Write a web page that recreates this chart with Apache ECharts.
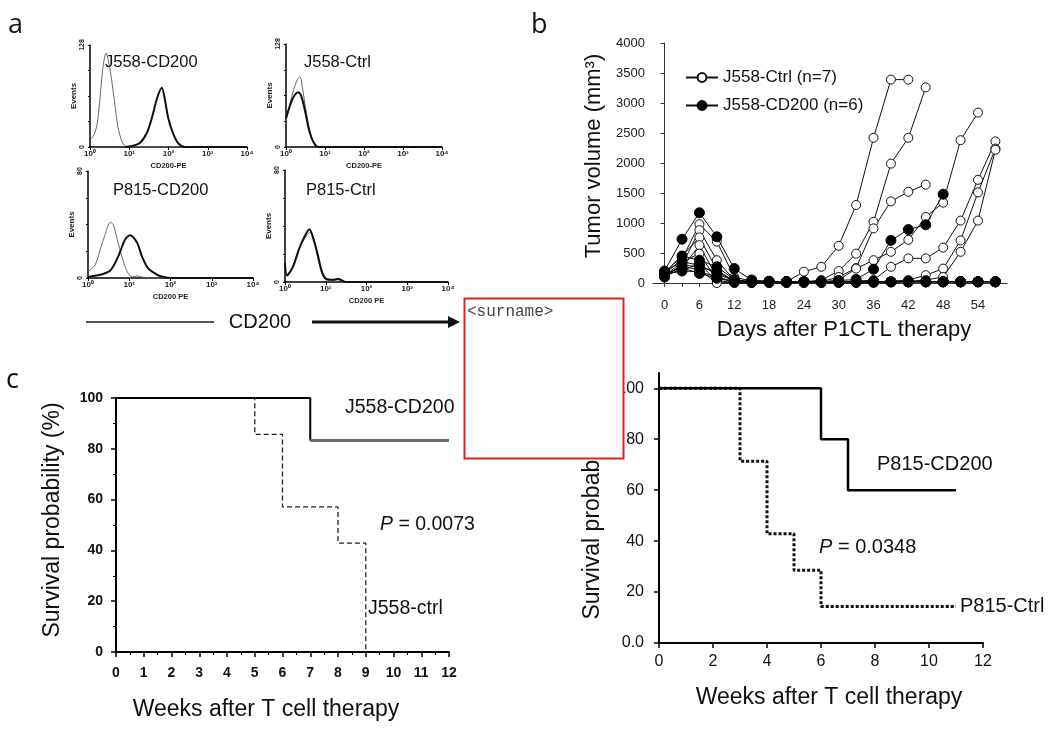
<!DOCTYPE html>
<html>
<head>
<meta charset="utf-8">
<script src="https://cdn.jsdelivr.net/npm/echarts@6/dist/echarts.min.js"></script>
<style>
html,body{margin:0;padding:0;background:#fff}
#chart{width:1050px;height:729px}
</style>
</head>
<body>
<div id="chart"></div>
<script>
// ---------- panel a : flow histograms, x = log10(CD200-PE), y = % of max events
var histDecades = [0, 1, 2, 3, 4];
var j558CD200Thin  = [[0,7],[0.1,12],[0.18,22],[0.25,46],[0.33,78],[0.41,92],[0.51,76],[0.62,46],[0.71,20],[0.82,5],[0.94,0],[1.1,1],[1.3,0],[4,0]];
var j558CD200Thick = [[0.9,0],[1.07,1],[1.27,4],[1.45,14],[1.58,29],[1.71,48],[1.83,58],[1.91,46],[1.99,29],[2.11,14],[2.24,4],[2.42,0],[4,0]];
var j558CtrlThin   = [[0,25],[0.1,42],[0.2,56],[0.3,66],[0.36,68],[0.42,58],[0.5,38],[0.6,18],[0.7,5],[0.8,0],[4,0]];
var j558CtrlThick  = [[0,28],[0.1,40],[0.2,49],[0.3,53],[0.36,52],[0.42,46],[0.5,33],[0.6,15],[0.7,5],[0.82,0],[4,0]];
var p815CD200Thin  = [[0,6],[0.17,12],[0.29,26],[0.41,40],[0.54,52],[0.61,50],[0.71,36],[0.83,19],[0.95,6],[1.07,1],[1.2,2],[1.3,1],[1.5,0],[4,0]];
var p815CD200Thick = [[0,1],[0.29,3],[0.54,7],[0.73,20],[0.9,36],[1.02,40],[1.19,33],[1.31,20],[1.46,9],[1.68,3],[1.83,1],[2.0,0],[4,0]];
var p815CtrlThin   = [[0,15],[0.05,5],[0.2,15],[0.35,30],[0.5,40],[0.6,44],[0.7,40],[0.8,22],[0.9,8],[1.0,2],[1.2,1],[1.3,2],[1.45,0],[4,0]];
var p815CtrlThick  = [[0,17],[0.05,6],[0.2,14],[0.35,30],[0.5,42],[0.6,47],[0.7,38],[0.8,25],[0.9,10],[1.0,3],[1.2,2],[1.3,3],[1.5,0],[4,0]];

// ---------- panel b : tumour volume per mouse (mm3), every 3 days
var days = [0,3,6,9,12,15,18,21,24,27,30,33,36,39,42,45,48,51,54,57];
var bTickDays  = [0,3,6,9,12,15,18,21,24,27,30,33,36,39,42,45,48,51,54,57];
var bLabelDays = [0,6,12,18,24,30,36,42,48,54];
var ctrlMice = [
  [150,400,980,690,100,30,20,20,190,270,620,1300,2420,3390,3390,null,null,null,null,null],
  [120,300,880,380,50,20,20,20,20,50,200,490,1020,1990,2420,3260,null,null,null,null],
  [180,450,760,220,30,10,10,10,10,20,100,250,910,1360,1520,1640,null,null,null,null],
  [100,250,630,100,20,0,0,0,0,10,50,240,380,520,720,1100,1340,2380,2840,null],
  [200,350,490,50,0,0,0,0,0,0,20,30,50,270,410,410,590,1040,1720,2360],
  [150,200,330,20,0,0,0,0,0,0,0,0,20,30,50,130,240,710,1510,2240],
  [130,280,220,0,0,0,0,0,0,0,0,0,0,20,30,50,100,520,1040,2220]
];
var cd200Mice = [
  [200,730,1170,770,240,50,30,20,20,20,40,60,230,710,890,970,1480,null,null,null],
  [180,450,380,270,60,20,20,20,20,20,20,20,20,20,20,20,20,20,20,20],
  [100,300,270,190,30,20,20,20,20,20,20,20,20,20,20,20,20,20,20,20],
  [150,200,190,100,20,20,20,20,20,20,20,20,20,20,20,20,20,20,20,20],
  [120,350,300,150,40,20,20,20,20,20,20,20,20,20,20,20,20,20,20,20],
  [160,250,160,80,20,20,20,20,20,20,20,20,20,20,20,20,20,20,20,20]
];

// ---------- panel c : Kaplan-Meier survival (%)
var weeksJ558CD200 = [0, 7, 12];        var survJ558CD200 = [100, 83.3, 83.3];
var weeksJ558Ctrl  = [0, 5, 6, 8, 9];   var survJ558Ctrl  = [100, 85.7, 57.1, 42.9, 0];
var weeksP815CD200 = [0, 6, 7, 11];     var survP815CD200 = [100, 80, 60, 60];
var weeksP815Ctrl  = [0, 3, 4, 5, 6, 11]; var survP815Ctrl = [100, 71.4, 42.9, 28.6, 14.3, 14.3];
var survTicksR = [0, 20, 40, 60, 80, 100];

var FONT = '"Liberation Sans", Arial, sans-serif';
var SUP = ['\u2070', '\u00b9', '\u00b2', '\u00b3', '\u2074'];
var chart = echarts.init(document.getElementById('chart'));

function pairs(xs, ys) {
  var out = [];
  for (var i = 0; i < xs.length; i++) if (ys[i] != null) out.push([xs[i], ys[i]]);
  return out;
}

var grids = [
  {left: 90, top: 45, width: 157, height: 102},
  {left: 286, top: 44, width: 156, height: 103},
  {left: 88, top: 171, width: 165, height: 107},
  {left: 285, top: 170, width: 163, height: 112},
  {left: 653, top: 43, width: 354, height: 240},
  {left: 116, top: 398, width: 333, height: 254},
  {left: 659, top: 373, width: 324, height: 270}
];

var xAxes = [], yAxes = [], series = [];
var histNames = ['CD200-PE', 'CD200-PE', 'CD200 PE', 'CD200 PE'];
var histTop = ['128', '128', '80', '80'];
var histCurves = [
  [j558CD200Thin, j558CD200Thick], [j558CtrlThin, j558CtrlThick],
  [p815CD200Thin, p815CD200Thick], [p815CtrlThin, p815CtrlThick]
];
histCurves.forEach(function (c, i) {
  xAxes.push({
    gridIndex: i, type: 'value', min: 0, max: 4, interval: 1,
    axisLine: {lineStyle: {color: '#000', width: 1.5}},
    axisTick: {length: 3, lineStyle: {color: '#000'}},
    axisLabel: {formatter: function (v) { return '10' + SUP[v]; }, fontSize: 8, fontWeight: 'bold', color: '#222', margin: 3, fontFamily: FONT},
    splitLine: {show: false},
    name: histNames[i], nameLocation: 'middle', nameGap: 15,
    nameTextStyle: {fontSize: 7.5, fontWeight: 'bold', color: '#222', fontFamily: FONT}
  });
  yAxes.push({
    gridIndex: i, type: 'value', min: 0, max: 100, interval: 25,
    axisLine: {show: true, lineStyle: {color: '#000', width: 1.5}},
    axisTick: {show: true, length: 2, lineStyle: {color: '#000'}},
    axisLabel: {customValues: [0, 100], rotate: 90, fontSize: 7, fontWeight: 'bold', color: '#222', margin: 4,
      formatter: function (v) { return v === 0 ? '0' : histTop[i]; }},
    splitLine: {show: false},
    name: 'Events', nameLocation: 'middle', nameRotate: 90, nameGap: 5,
    nameTextStyle: {fontSize: 8, fontWeight: 'bold', color: '#222', fontFamily: FONT}
  });
  series.push({type: 'line', xAxisIndex: i, yAxisIndex: i, data: c[0], smooth: 0.3, symbol: 'none',
    lineStyle: {color: '#666', width: 1}, z: 2});
  series.push({type: 'line', xAxisIndex: i, yAxisIndex: i, data: c[1], smooth: 0.3, symbol: 'none',
    lineStyle: {color: '#111', width: 2}, z: 3});
});

// panel b axes
xAxes.push({
  gridIndex: 4, type: 'value', min: -2, max: 59,
  axisLine: {lineStyle: {color: '#333', width: 1}},
  axisTick: {customValues: bTickDays, length: 4, lineStyle: {color: '#333'}},
  axisLabel: {customValues: bLabelDays, fontSize: 13, color: '#222', margin: 16, fontFamily: FONT},
  splitLine: {show: false}
});
yAxes.push({
  gridIndex: 4, type: 'value', min: 0, max: 4000, interval: 500,
  axisLine: {show: true, lineStyle: {color: '#333', width: 1}},
  axisTick: {show: true, length: 4, lineStyle: {color: '#333'}},
  axisLabel: {fontSize: 13, color: '#222', margin: 8, fontFamily: FONT,
    formatter: function (v) { return String(v); }},
  splitLine: {show: false}
});
ctrlMice.forEach(function (m) {
  series.push({
    name: 'J558-Ctrl (n=7)', type: 'line', xAxisIndex: 4, yAxisIndex: 4,
    data: pairs(days, m), symbol: 'circle', symbolSize: 9,
    itemStyle: {color: '#fff', borderColor: '#111', borderWidth: 1},
    lineStyle: {color: '#111', width: 1}, z: 2
  });
});
cd200Mice.forEach(function (m) {
  series.push({
    name: 'J558-CD200 (n=6)', type: 'line', xAxisIndex: 4, yAxisIndex: 4,
    data: pairs(days, m), symbol: 'circle', symbolSize: 10,
    itemStyle: {color: '#000', borderColor: '#000', borderWidth: 1},
    lineStyle: {color: '#111', width: 1}, z: 3
  });
});

// panel c left
xAxes.push({
  gridIndex: 5, type: 'value', min: 0, max: 12, interval: 1,
  axisLine: {lineStyle: {color: '#000', width: 2}},
  axisTick: {length: 5, lineStyle: {color: '#000', width: 1.5}},
  minorTick: {show: true, splitNumber: 2, length: 3, lineStyle: {color: '#000'}},
  axisLabel: {fontSize: 14, fontWeight: 'bold', color: '#111', margin: 14, fontFamily: FONT},
  splitLine: {show: false}
});
yAxes.push({
  gridIndex: 5, type: 'value', min: 0, max: 100, interval: 20,
  axisLine: {show: true, lineStyle: {color: '#000', width: 2}},
  axisTick: {show: true, length: 5, lineStyle: {color: '#000', width: 1.5}},
  minorTick: {show: true, splitNumber: 2, length: 3, lineStyle: {color: '#000'}},
  axisLabel: {fontSize: 14, fontWeight: 'bold', color: '#111', margin: 13, fontFamily: FONT},
  splitLine: {show: false}
});
var ptsJ558CD200 = pairs(weeksJ558CD200, survJ558CD200);
series.push({type: 'line', xAxisIndex: 5, yAxisIndex: 5, step: 'end', symbol: 'none',
  data: ptsJ558CD200.slice(0, 2), lineStyle: {color: '#000', width: 2}, z: 3});
series.push({type: 'line', xAxisIndex: 5, yAxisIndex: 5, step: 'end', symbol: 'none',
  data: ptsJ558CD200.slice(1), lineStyle: {color: '#6a6a6a', width: 3}, z: 3});
series.push({type: 'line', xAxisIndex: 5, yAxisIndex: 5, step: 'end', symbol: 'none',
  data: pairs(weeksJ558Ctrl, survJ558Ctrl), lineStyle: {color: '#222', width: 1.3, type: [5, 3]}, z: 2});

// panel c right
xAxes.push({
  gridIndex: 6, type: 'value', min: 0, max: 12, interval: 2,
  axisLine: {lineStyle: {color: '#000', width: 2}},
  axisTick: {length: 5, lineStyle: {color: '#000', width: 1.5}},
  axisLabel: {fontSize: 16, color: '#111', margin: 11, fontFamily: FONT},
  splitLine: {show: false}
});
yAxes.push({
  gridIndex: 6, type: 'value', min: 0, max: 106,
  axisLine: {show: true, lineStyle: {color: '#000', width: 2}},
  axisTick: {show: true, customValues: survTicksR, length: 5, lineStyle: {color: '#000', width: 1.5}},
  axisLabel: {customValues: survTicksR, fontSize: 16, color: '#111', margin: 15, fontFamily: FONT,
    formatter: function (v) { return v === 0 ? '0.0' : String(v); }},
  splitLine: {show: false}
});
series.push({type: 'line', xAxisIndex: 6, yAxisIndex: 6, step: 'end', symbol: 'none',
  data: pairs(weeksP815CD200, survP815CD200), lineStyle: {color: '#000', width: 2.5}, z: 3});
series.push({type: 'line', xAxisIndex: 6, yAxisIndex: 6, step: 'end', symbol: 'none',
  data: pairs(weeksP815Ctrl, survP815Ctrl), lineStyle: {color: '#111', width: 3, type: [3, 2]}, z: 2});

// texts
function txt(t, x, y, size, opt) {
  opt = opt || {};
  var st = {
    text: t, fontSize: size, fontFamily: opt.family || FONT, fill: opt.color || '#111',
    fontWeight: opt.weight || 'normal',
    align: opt.align || 'left', textAlign: opt.align || 'left',
    verticalAlign: 'middle', textVerticalAlign: 'middle'
  };
  if (opt.rich) st.rich = opt.rich;
  return {type: 'text', x: x, y: y, rotation: opt.rot || 0, z: opt.z || 50, style: st};
}
var italicP = function (size) {
  return {i: {fontSize: size, fontStyle: 'italic', fontFamily: FONT, fill: '#111'}};
};
var graphics = [
  txt('a', 8, 25, 27, {family: '"Open Sans", sans-serif'}),
  txt('b', 531, 25, 27, {family: '"Open Sans", sans-serif'}),
  txt('c', 6, 380, 27, {family: '"Open Sans", sans-serif'}),
  txt('J558-CD200', 105, 62, 16.5),
  txt('J558-Ctrl', 304, 62, 16.5),
  txt('P815-CD200', 113, 190, 16.5),
  txt('P815-Ctrl', 306, 190, 16.5),
  txt('CD200', 260, 322, 20, {align: 'center'}),
  {type: 'line', shape: {x1: 86, y1: 322, x2: 214, y2: 322}, style: {stroke: '#555', lineWidth: 2}},
  {type: 'line', shape: {x1: 312, y1: 322, x2: 450, y2: 322}, style: {stroke: '#111', lineWidth: 3}},
  {type: 'polygon', shape: {points: [[448, 316], [460, 322], [448, 328]]}, style: {fill: '#111'}},
  txt('Tumor volume (mm\u00b3)', 594, 156, 22, {align: 'center', rot: Math.PI / 2}),
  txt('Days after P1CTL therapy', 844, 330, 22, {align: 'center'}),
  txt('Survival probability (%)', 53, 520, 23, {align: 'center', rot: Math.PI / 2}),
  txt('Weeks after T cell therapy', 266, 710, 23, {align: 'center'}),
  txt('J558-CD200', 345, 408, 19.5),
  txt('{i|P} = 0.0073', 380, 525, 19.5, {rich: italicP(19.5)}),
  txt('J558-ctrl', 368, 609, 19.5),
  txt('Survival probability (%)', 593, 502, 23, {align: 'center', rot: Math.PI / 2}),
  txt('Weeks after T cell therapy', 829, 698, 23, {align: 'center'}),
  txt('P815-CD200', 877, 464, 20),
  txt('{i|P} = 0.0348', 819, 547, 20, {rich: italicP(20)}),
  txt('P815-Ctrl', 960, 606, 20),
  {type: 'rect', z: 100, shape: {x: 464.5, y: 298.5, width: 159, height: 160},
    style: {fill: '#fff', stroke: '#e41e1e', lineWidth: 2}},
  txt('<surname>', 467, 312, 16, {family: '"Liberation Mono", "Courier New", monospace', color: '#444', z: 101})
];

var option = {
  animation: false,
  backgroundColor: '#fff',
  textStyle: {fontFamily: FONT},
  grid: grids,
  xAxis: xAxes,
  yAxis: yAxes,
  legend: {
    data: ['J558-Ctrl (n=7)', 'J558-CD200 (n=6)'],
    orient: 'vertical', left: 680, top: 64, itemWidth: 32, itemHeight: 11, itemGap: 11,
    textStyle: {fontSize: 17, color: '#111', fontFamily: FONT}, selectedMode: false
  },
  series: series,
  graphic: graphics
};
chart.setOption(option);
</script>
</body>
</html>
